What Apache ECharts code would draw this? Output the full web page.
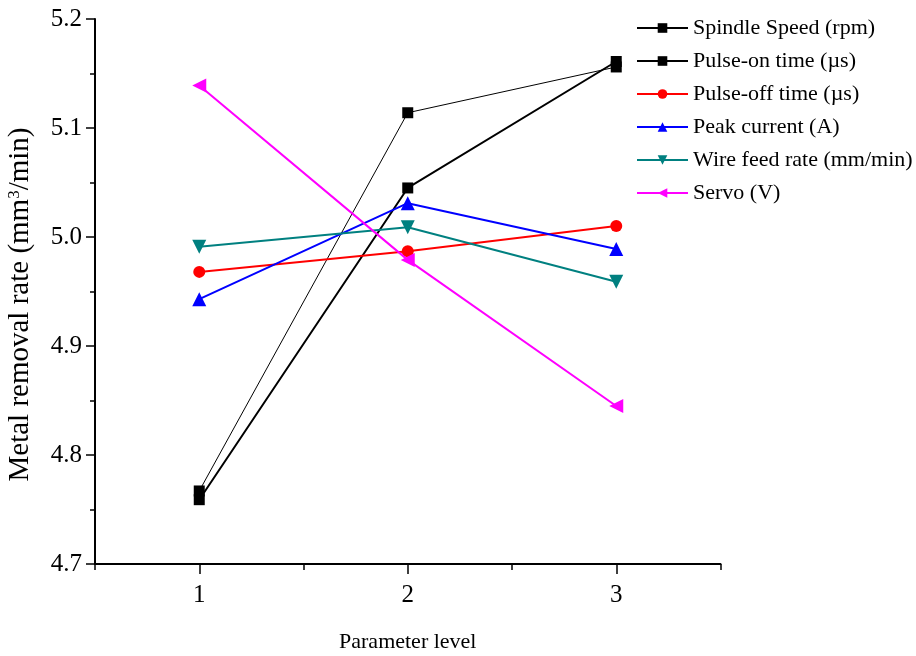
<!DOCTYPE html>
<html>
<head>
<meta charset="utf-8">
<script src="https://cdn.jsdelivr.net/npm/echarts@6/dist/echarts.min.js"></script>
<style>html,body{margin:0;padding:0;background:#fff}#c{width:916px;height:656px}</style>
</head>
<body>
<div id="c"></div>
<script>
const levels = [1, 2, 3];
const spindleSpeed = [4.767, 5.114, 5.156];
const pulseOn = [4.759, 5.045, 5.161];
const pulseOff = [4.968, 4.987, 5.010];
const peakCurrent = [4.943, 5.031, 4.989];
const wireFeed = [4.991, 5.009, 4.959];
const servo = [5.139, 4.979, 4.845];
const seriesNames = ['Spindle Speed (rpm)', 'Pulse-on time (\u00b5s)', 'Pulse-off time (\u00b5s)', 'Peak current (A)', 'Wire feed rate (mm/min)', 'Servo (V)'];

const FONT = '"Liberation Serif", "Times New Roman", serif';
const pairs = arr => levels.map((x, i) => [x, arr[i]]);

const styles = [
  {data: spindleSpeed, color: '#000000', width: 1, symbol: 'rect', size: 11, rot: 0},
  {data: pulseOn, color: '#000000', width: 2, symbol: 'rect', size: 11, rot: 0},
  {data: pulseOff, color: '#ff0000', width: 2, symbol: 'circle', size: 12, rot: 0},
  {data: peakCurrent, color: '#0000ff', width: 2, symbol: 'triangle', size: 14, rot: 0},
  {data: wireFeed, color: '#008080', width: 2, symbol: 'triangle', size: 14, rot: 180},
  {data: servo, color: '#ff00ff', width: 2, symbol: 'triangle', size: 14, rot: 90}
];

const chart = echarts.init(document.getElementById('c'), null, {renderer: 'canvas'});
chart.setOption({
  animation: false,
  backgroundColor: '#ffffff',
  textStyle: {fontFamily: FONT},
  grid: {left: 95, right: 195.5, top: 19, bottom: 92, containLabel: false, outerBoundsMode: 'none'},
  legend: {
    orient: 'vertical', left: 631, top: 12,
    itemWidth: 51, itemHeight: 12, itemGap: 11,
    textStyle: {fontFamily: FONT, fontSize: 22, color: '#000', lineHeight: 22},
    data: seriesNames
  },
  xAxis: [{
    type: 'value', min: 0.5, max: 3.5, interval: 0.5,
    axisLine: {show: true, onZero: false, lineStyle: {color: '#000', width: 2}},
    axisTick: {show: true, inside: false, length: 6, lineStyle: {color: '#000', width: 1.5}},
    axisLabel: {show: false},
    splitLine: {show: false},
    name: 'Parameter level', nameLocation: 'middle', nameGap: 67,
    nameTextStyle: {fontFamily: FONT, fontSize: 22, color: '#000'}
  }, {
    type: 'value', min: 0.5, max: 3.5, position: 'bottom', gridIndex: 0,
    axisLine: {show: false},
    axisTick: {show: true, inside: false, length: 10, customValues: levels, lineStyle: {color: '#000', width: 1.5}},
    axisLabel: {show: true, customValues: levels, margin: 19, fontFamily: FONT, fontSize: 25, color: '#000'},
    splitLine: {show: false}
  }],
  yAxis: {
    type: 'value', min: 4.7, max: 5.2, interval: 0.1,
    axisLine: {show: true, onZero: false, lineStyle: {color: '#000', width: 2}},
    axisTick: {show: true, inside: false, length: 9, lineStyle: {color: '#000', width: 1.5}},
    minorTick: {show: true, splitNumber: 2, length: 5, lineStyle: {color: '#000', width: 1.5}},
    axisLabel: {margin: 13, fontFamily: FONT, fontSize: 25, color: '#000', formatter: v => v.toFixed(1)},
    splitLine: {show: false},
    name: 'Metal removal rate (mm{sup|3}/min)', nameLocation: 'middle', nameGap: 60,
    nameTextStyle: {fontFamily: FONT, fontSize: 29, color: '#000', padding: [0, 26, 0, 0],
      rich: {sup: {fontFamily: FONT, fontSize: 17, color: '#000', verticalAlign: 'top', padding: [0, 0, 12, 0]}}}
  },
  series: styles.map((s, i) => ({
    name: seriesNames[i], type: 'line', xAxisIndex: 0,
    data: pairs(s.data),
    symbol: s.symbol, symbolSize: s.size, symbolRotate: s.rot,
    itemStyle: {color: s.color},
    lineStyle: {color: s.color, width: s.width},
    z: 2 + i
  }))
});
</script>
</body>
</html>
